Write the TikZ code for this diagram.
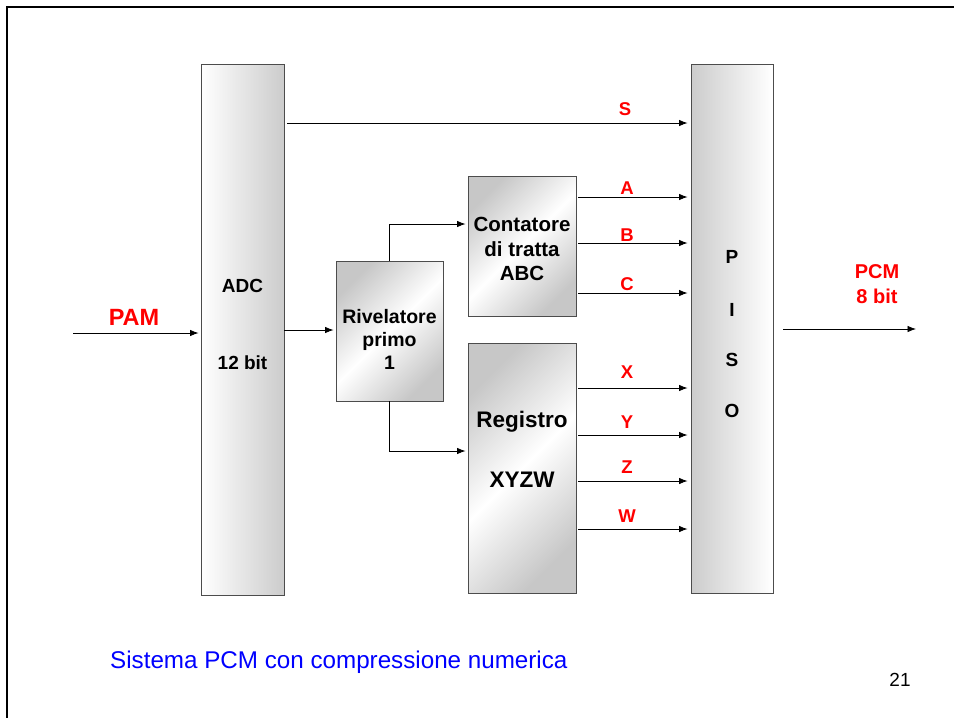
\documentclass[tikz,border=0pt]{standalone}
\usepackage{fontspec}
\setmainfont{Liberation Sans}
\usetikzlibrary{arrows.meta,calc}
\definecolor{lblred}{RGB}{255,0,0}
\definecolor{capblue}{RGB}{0,0,255}
\tikzset{
  blk/.style={draw=black!70, line width=0.9pt, rectangle, inner sep=0pt},
  hshadeL/.style={left color=white, right color=black!20},
  hshadeR/.style={left color=black!20, right color=white},
  dshade/.style={left color=black!22, right color=black!22, middle color=white, shading angle=45},
  arr/.style={line width=0.8pt, -{Latex[length=8.5pt,width=6.5pt]}},
  boxtxt/.style={font=\fontsize{19}{23}\selectfont\bfseries, align=center, inner sep=0pt},
  redlbl/.style={font=\fontsize{18.5}{22}\selectfont\bfseries, text=lblred, inner sep=0pt},
}
\begin{document}
\begin{tikzpicture}[x=1pt,y=-1pt]
\useasboundingbox (0,0) rectangle (954,718);
% frame
\draw[line width=2.5pt] (7,718) -- (7,7) -- (954,7);

% blocks
\node[blk, hshadeL, minimum width=83pt, minimum height=531pt] (adc) at (242.5,329.5) {};
\node[blk, dshade, minimum width=107pt, minimum height=140pt] (riv) at (389.5,331) {};
\node[blk, dshade, minimum width=108pt, minimum height=140pt] (cont) at (522,246) {};
\node[blk, dshade, minimum width=108pt, minimum height=250pt] (reg) at (522,468) {};
\node[blk, hshadeR, minimum width=82pt, minimum height=529pt] (piso) at (732,328.5) {};

% block texts
\node[boxtxt] (adct1) at (242.5,286) {ADC};
\node[boxtxt] (adct2) at (242.5,363) {12 bit};
\node[boxtxt, font=\fontsize{19.5}{23}\selectfont\bfseries] (rivt) at (389.5,339) {Rivelatore\\primo\\1};
\node[boxtxt, font=\fontsize{20.5}{24.5}\selectfont\bfseries] (contt) at (522,249) {Contatore\\di tratta\\ABC};
\node[boxtxt, font=\fontsize{22.5}{26}\selectfont\bfseries] (regt1) at (522,422) {Registro};
\node[boxtxt, font=\fontsize{22.5}{26}\selectfont\bfseries] (regt2) at (522,480) {XYZW};
\node[boxtxt] (p1) at (732,257) {P};
\node[boxtxt] (p2) at (732,310) {I};
\node[boxtxt] (p3) at (732,360) {S};
\node[boxtxt] (p4) at (732,411) {O};

% row coordinates
\coordinate (yS) at (0,123);
\coordinate (yA) at (0,197);
\coordinate (yB) at (0,243);
\coordinate (yC) at (0,293);
\coordinate (yX) at (0,388);
\coordinate (yY) at (0,435);
\coordinate (yZ) at (0,481);
\coordinate (yW) at (0,529);
\coordinate (yIn) at (0,333);
\coordinate (yAR) at (0,330);
\coordinate (yTop) at (0,224);
\coordinate (yBot) at (0,451);
\coordinate (yOut) at (0,329);
\coordinate (pamstart) at (73,333);
\coordinate (pcmend) at (916,329);

% arrows
\draw[arr, shorten <=3pt, shorten >=3pt] (adc.east |- yS) -- (piso.west |- yS);
\foreach \r in {yA,yB,yC,yX,yY,yZ,yW}{
  \draw[arr, shorten <=2pt, shorten >=3pt] (cont.east |- \r) -- (piso.west |- \r);
}
\draw[arr, shorten >=2pt] (pamstart) -- (adc.west |- yIn);
\draw[arr, shorten >=2pt] (adc.east |- yAR) -- (riv.west |- yAR);
\draw[arr, shorten >=2pt] (riv.north) |- (cont.west |- yTop);
\draw[arr, shorten >=2pt] (riv.south) |- (reg.west |- yBot);
\draw[arr, shorten <=10pt] (piso.east |- yOut) -- (pcmend);

% red labels
\node[redlbl] (lS) at (625,109) {S};
\node[redlbl] (lA) at (627,188) {A};
\node[redlbl] (lB) at (627,235) {B};
\node[redlbl] (lC) at (627,284) {C};
\node[redlbl] (lX) at (627,372) {X};
\node[redlbl] (lY) at (627,422) {Y};
\node[redlbl] (lZ) at (627,467) {Z};
\node[redlbl] (lW) at (627,516) {W};
\node[redlbl, font=\fontsize{23.5}{26}\selectfont\bfseries] (lPAM) at (134,317) {PAM};
\node[redlbl, font=\fontsize{20}{25}\selectfont\bfseries, align=center] (lPCM) at (877,284.5) {PCM\\8 bit};

% caption
\node[inner sep=0pt, anchor=west, text=capblue, font=\fontsize{24.2}{27}\selectfont] (cap) at (110,662) {Sistema PCM con compressione numerica};
\node[inner sep=0pt, font=\fontsize{19}{21}\selectfont] (pg) at (900,680) {21};
\end{tikzpicture}
\end{document}
